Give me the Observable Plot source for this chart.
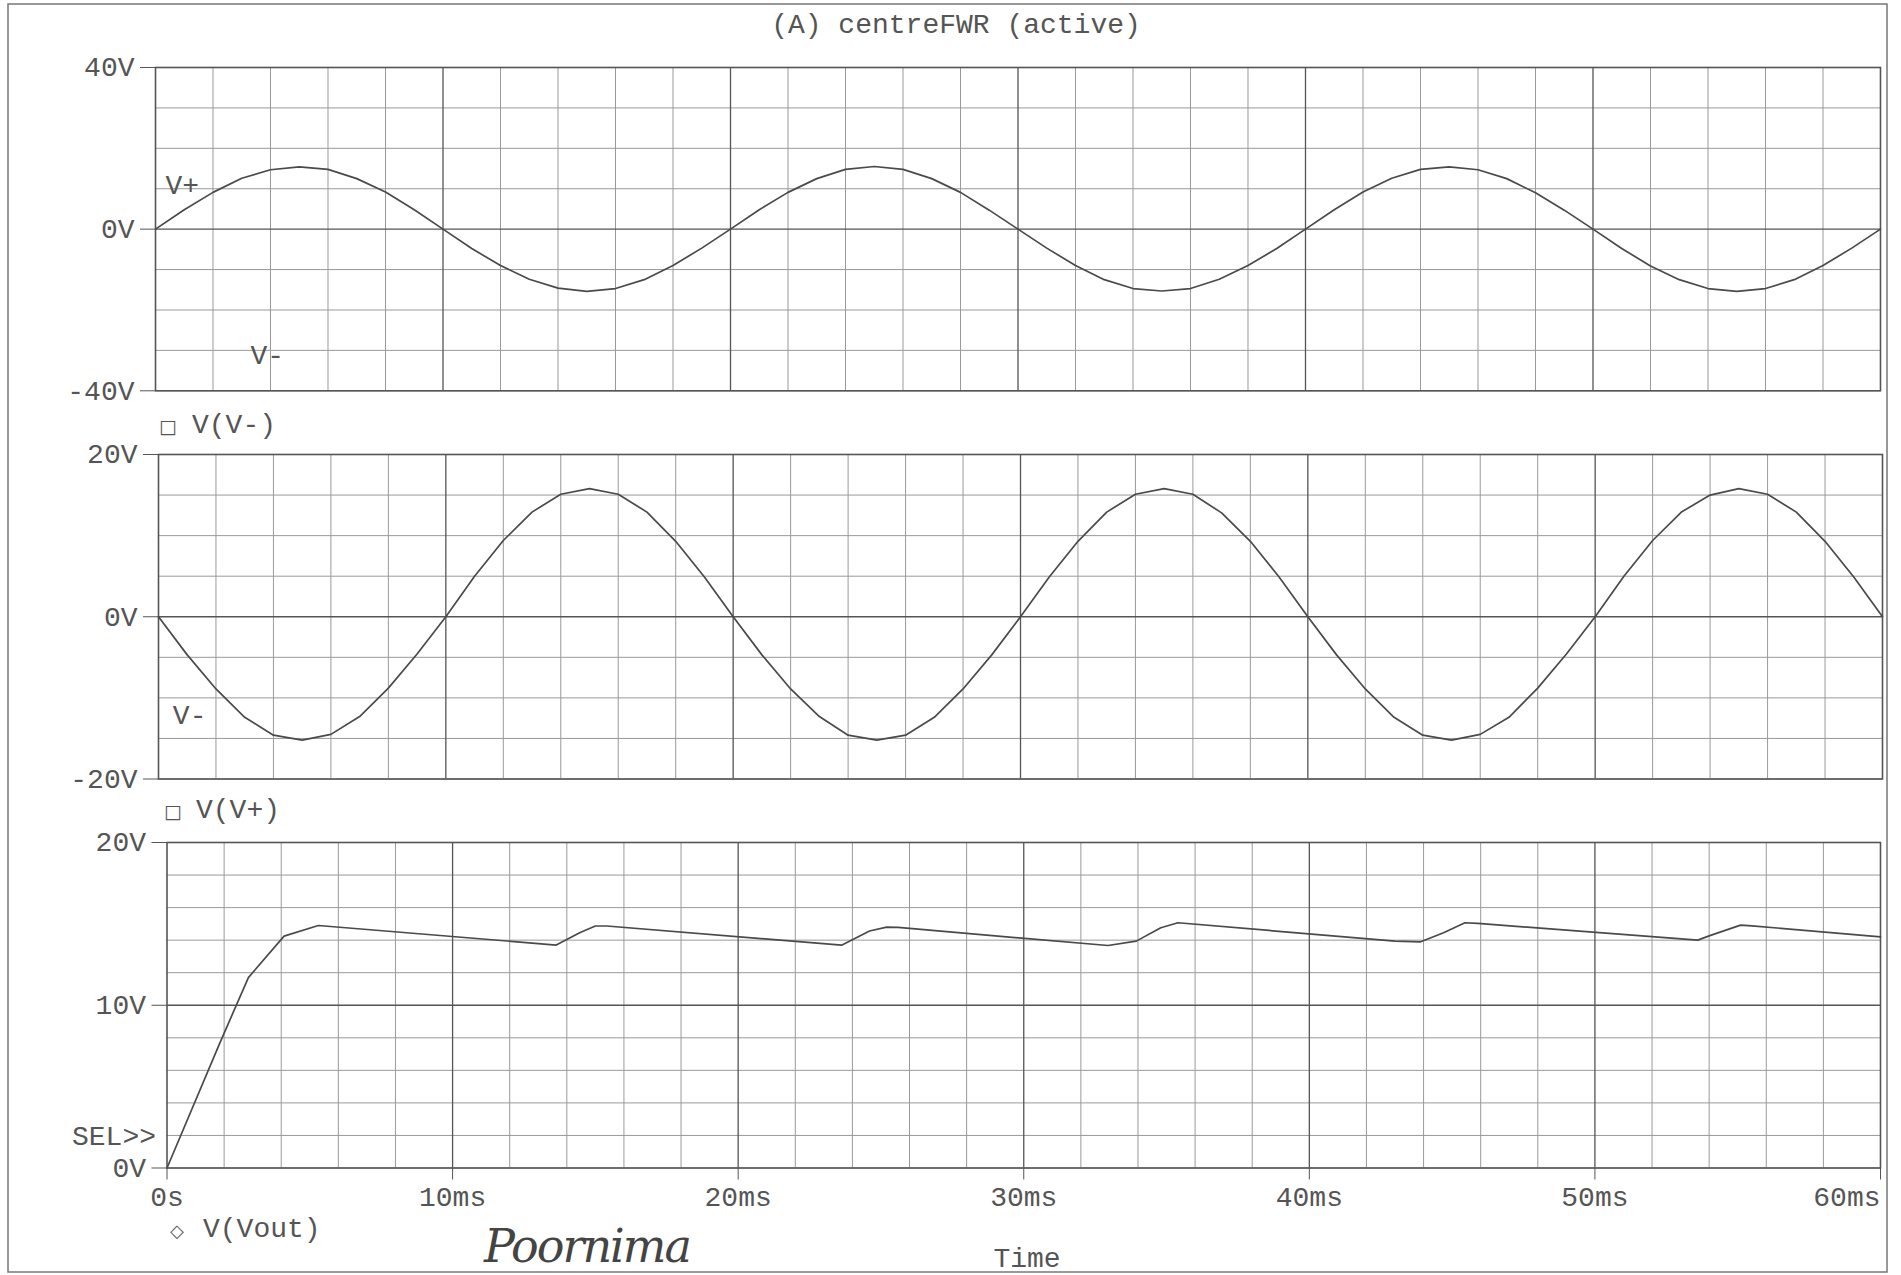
<!DOCTYPE html>
<html>
<head>
<meta charset="utf-8">
<script src="https://cdn.jsdelivr.net/npm/d3@7"></script>
<script src="https://cdn.jsdelivr.net/npm/@observablehq/plot@0.6"></script>
<style>
  html, body { margin: 0; padding: 0; background: #ffffff; }
  #page { position: relative; width: 1901px; height: 1275px; overflow: hidden; background: #ffffff; }
  #page svg.plot { position: absolute; left: 0; }
  #overlay { position: absolute; left: 0; top: 0; pointer-events: none; }
  .mono { font-family: "Liberation Mono", "DejaVu Sans Mono", monospace; font-size: 28px; fill: #555555; }
</style>
</head>
<body>
<div id="page"></div>
<script>
// ---------------- DATA ----------------
const title = "(A) centreFWR (active)";
const timeTicks = [0, 10, 20, 30, 40, 50, 60];
const timeTickLabels = ["0s", "10ms", "20ms", "30ms", "40ms", "50ms", "60ms"];

// sample times (ms) for the two sine traces
const sampleT = [0,1,2,3,4,5,6,7,8,9,10,11,12,13,14,15,16,17,18,19,20,
  21,22,23,24,25,26,27,28,29,30,31,32,33,34,35,36,37,38,39,40,
  41,42,43,44,45,46,47,48,49,50,51,52,53,54,55,56,57,58,59,60];

// top panel trace (legend "V(V-)")
const topV = [0,4.8,9.1,12.6,14.7,15.4,14.8,12.5,9.2,4.8,0,
  -4.8,-9.0,-12.4,-14.6,-15.4,-14.7,-12.5,-9.0,-4.7,0,
  4.8,9.1,12.5,14.8,15.5,14.8,12.5,9.1,4.7,0,
  -4.7,-9.0,-12.5,-14.7,-15.3,-14.7,-12.4,-9.0,-4.8,0,
  4.8,9.2,12.6,14.8,15.4,14.7,12.5,9.0,4.7,0,
  -4.8,-9.1,-12.5,-14.7,-15.4,-14.7,-12.5,-9.0,-4.7,0];

// middle panel trace (legend "V(V+)")
const midV = [0,-4.7,-8.9,-12.4,-14.6,-15.2,-14.5,-12.3,-8.8,-4.6,0,
  5.0,9.4,12.9,15.1,15.8,15.1,12.9,9.3,4.9,0,
  -4.7,-8.9,-12.3,-14.6,-15.2,-14.6,-12.4,-8.9,-4.7,0,
  4.9,9.3,12.9,15.1,15.8,15.1,12.8,9.3,4.9,0,
  -4.7,-8.9,-12.4,-14.6,-15.2,-14.5,-12.4,-8.8,-4.6,0,
  5.0,9.4,12.9,15.0,15.8,15.1,12.9,9.3,4.9,0];

// bottom panel trace V(Vout)
const outT = [0, 1.83, 2.85, 4.1, 5.3, 13.63, 14.45, 15.0, 15.4, 23.62, 24.6, 25.2, 25.6,
  32.95, 33.94, 34.8, 35.4, 43.0, 43.9, 44.7, 45.45, 45.9, 53.6, 54.0, 55.1, 55.5, 60];
const outV = [0, 7.6, 11.7, 14.25, 14.9, 13.7, 14.45, 14.87, 14.87, 13.69, 14.56, 14.8, 14.78,
  13.67, 13.94, 14.76, 15.07, 13.94, 13.9, 14.45, 15.07, 15.03, 14.0, 14.26, 14.92, 14.88, 14.2];

const topYTicks = [-40, 0, 40];
const midYTicks = [-20, 0, 20];
const botYTicks = [0, 10, 20];

const legendTop = "V(V-)";
const legendMid = "V(V+)";
const legendBot = "V(Vout)";

// ---------------- DRAWING ----------------
const W = 1901;
const page = document.getElementById("page");
const ink = "#555555";

function series(ts, vs) { return ts.map((t, i) => ({t, v: vs[i]})); }
const labelOf = d => timeTickLabels[timeTicks.indexOf(d)];

function panel(cfg) {
  const mt = 10, mb = cfg.xAxis ? 50 : 10;
  const h = (cfg.bottom - cfg.top) + mt + mb;
  const minorX = d3.range(0, 61, 2).filter(d => d % 10 !== 0);
  const majorX = [10, 20, 30, 40, 50];
  const minorY = cfg.gridY.filter(d => !cfg.majorY.includes(d));
  const marks = [
    Plot.gridX(minorX, {stroke: "#9a9a9a", strokeOpacity: 1, strokeWidth: 1}),
    Plot.gridY(minorY, {stroke: "#9a9a9a", strokeOpacity: 1, strokeWidth: 1}),
    Plot.gridX(majorX, {stroke: "#555", strokeOpacity: 1, strokeWidth: 1.3}),
    Plot.gridY(cfg.majorY, {stroke: "#555", strokeOpacity: 1, strokeWidth: 1.3}),
    Plot.frame({stroke: "#555", strokeWidth: 1.6}),
    Plot.axisY({ticks: cfg.yTicks, tickFormat: d => d + "V", tickSize: 15, tickPadding: 6, label: null, stroke: "#555"}),
    Plot.line(cfg.data, {x: "t", y: "v", stroke: "#4a4a4a", strokeWidth: 1.7, curve: "linear"})
  ];
  if (cfg.xAxis) {
    marks.push(Plot.axisX({ticks: timeTicks.slice(0, -1), tickFormat: labelOf,
      tickSize: 12, tickPadding: 6, label: null, stroke: "#555"}));
    marks.push(Plot.axisX({ticks: timeTicks.slice(-1), tickFormat: labelOf, textAnchor: "end",
      tickSize: 12, tickPadding: 6, label: null, stroke: "#555"}));
  }
  if (cfg.labels) {
    marks.push(Plot.text(cfg.labels, {x: "t", y: "v", text: "label", textAnchor: "start", lineAnchor: "bottom", fill: ink}));
  }
  const svg = Plot.plot({
    width: W, height: h,
    marginLeft: cfg.left, marginRight: W - cfg.right, marginTop: mt, marginBottom: mb,
    x: {domain: [0, 60], axis: cfg.xAxis ? undefined : null},
    y: {domain: cfg.yDomain},
    style: {fontFamily: '"Liberation Mono", "DejaVu Sans Mono", monospace', fontSize: "28px", color: ink, background: "transparent", overflow: "visible"},
    marks
  });
  svg.classList.add("plot");
  svg.style.top = (cfg.top - mt) + "px";
  page.appendChild(svg);
}

panel({top: 66.7, bottom: 390, left: 155, right: 1880, yDomain: [-40, 40], yTicks: topYTicks,
  gridY: [-40, -30, -20, -10, 0, 10, 20, 30, 40], majorY: [0],
  data: series(sampleT, topV),
  labels: [{t: 0.35, v: 8.8, label: "V+"}, {t: 3.3, v: -33.3, label: "V-"}]});

panel({top: 453.5, bottom: 778, left: 158, right: 1882, yDomain: [-20, 20], yTicks: midYTicks,
  gridY: [-20, -15, -10, -5, 0, 5, 10, 15, 20], majorY: [0],
  data: series(sampleT, midV),
  labels: [{t: 0.5, v: -13.2, label: "V-"}]});

panel({top: 841.5, bottom: 1167, left: 166.5, right: 1880, yDomain: [0, 20], yTicks: botYTicks,
  gridY: [0, 2, 4, 6, 8, 10, 12, 14, 16, 18, 20], majorY: [10],
  data: series(outT, outV), xAxis: true});

// overlay: frame, title, legends, annotations
const ns = "http://www.w3.org/2000/svg";
const ov = document.createElementNS(ns, "svg");
ov.setAttribute("id", "overlay");
ov.setAttribute("width", W);
ov.setAttribute("height", 1275);
page.appendChild(ov);
function txt(x, y, s, opts = {}) {
  const t = document.createElementNS(ns, "text");
  t.setAttribute("x", x); t.setAttribute("y", y);
  t.setAttribute("class", opts.cls || "mono");
  if (opts.anchor) t.setAttribute("text-anchor", opts.anchor);
  if (opts.style) t.setAttribute("style", opts.style);
  t.textContent = s;
  ov.appendChild(t);
  return t;
}
const border = document.createElementNS(ns, "rect");
border.setAttribute("x", 8); border.setAttribute("y", 4);
border.setAttribute("width", 1879); border.setAttribute("height", 1268);
border.setAttribute("fill", "none"); border.setAttribute("stroke", "#777"); border.setAttribute("stroke-width", 1.5);
ov.appendChild(border);

txt(956, 33, title, {anchor: "middle"});
txt(159, 433, "\u25A1", {style: "font-family:'DejaVu Sans';font-size:19px;fill:#555"});
txt(192, 433, legendTop);
txt(164, 818, "\u25A1", {style: "font-family:'DejaVu Sans';font-size:19px;fill:#555"});
txt(196, 818, legendMid);
txt(156, 1145, "SEL>>", {anchor: "end"});
txt(170, 1237, "\u25C7", {style: "font-family:'DejaVu Sans';font-size:18px;fill:#555"});
txt(203, 1237, legendBot);
txt(1027, 1267, "Time", {anchor: "middle"});
txt(484, 1262, "Poornima", {style: "font-family:'DejaVu Serif';font-style:italic;font-size:46px;fill:#444;letter-spacing:-2px"});
</script>
</body>
</html>
